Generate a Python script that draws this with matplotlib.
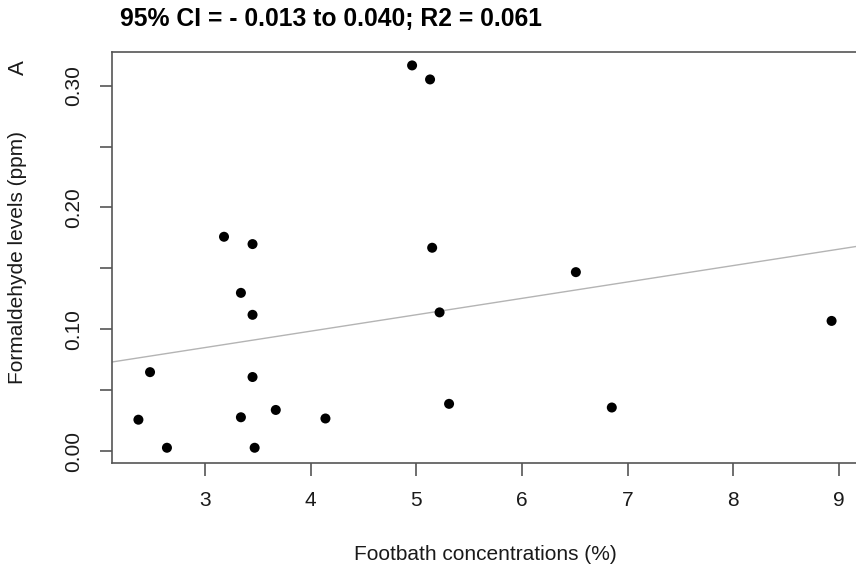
import numpy as np
import matplotlib
matplotlib.use("Agg")
import matplotlib.pyplot as plt

# footbath concentration (%) and formaldehyde level (ppm)
footbath = [4.96, 5.13, 3.18, 3.45, 5.15, 6.51, 3.34, 3.45, 5.22, 8.93,
            2.48, 3.45, 5.31, 3.67, 6.85, 2.37, 3.34, 4.14, 2.64, 3.47]
formaldehyde = [0.3165, 0.305, 0.176, 0.170, 0.167, 0.147, 0.130, 0.112, 0.114, 0.107,
                0.065, 0.061, 0.039, 0.034, 0.036, 0.026, 0.028, 0.027, 0.003, 0.003]

# fitted line as drawn
fit_intercept = 0.0448
fit_slope = 0.01345

title_text = "95% CI = - 0.013 to 0.040; R2 = 0.061"
x_ticks = [3, 4, 5, 6, 7, 8, 9]
y_ticks = [0.00, 0.10, 0.20, 0.30]
y_minor = [0.05, 0.15, 0.25]

plt.rcParams['font.family'] = ['Liberation Sans', 'DejaVu Sans']
edge = '#555555'
txt = '#1a1a1a'

fig = plt.figure(figsize=(8.56, 5.70), dpi=100)
# right edge of the box sits just past the figure border, like the cropped original
ax = fig.add_axes([112 / 856, 1 - 463 / 570, 746 / 856, (463 - 52) / 570])

ax.axline((0, fit_intercept), slope=fit_slope, color='#b4b4b4', lw=1.0, zorder=1)
ax.scatter(footbath, formaldehyde, s=52, color='black', edgecolors='none', zorder=3)

ax.set_xlim(2.12, 9.18)
ax.set_ylim(-0.0095, 0.3275)

ax.set_xticks(x_ticks)
ax.set_xticklabels([str(t) for t in x_ticks])
ax.set_yticks(y_ticks)
ax.set_yticklabels([f"{t:.2f}" for t in y_ticks])
ax.set_yticks(y_minor, minor=True)

for s in ax.spines.values():
    s.set_color(edge)
    s.set_linewidth(1.2)

ax.tick_params(axis='both', which='both', direction='out', length=9, width=1.2,
               color=edge, labelsize=15, labelcolor=txt)
ax.tick_params(axis='x', pad=11)
ax.tick_params(axis='y', pad=12, labelrotation=90)
for lab in ax.get_yticklabels():
    lab.set_va('center')

ax.set_xlabel('Footbath concentrations (%)', fontsize=15, color=txt)
ax.xaxis.set_label_coords(0.5, -(555 - 463) / (463 - 52))
ax.xaxis.label.set_va('center')
ax.set_ylabel('Formaldehyde levels (ppm)', fontsize=15, color=txt)
ax.yaxis.set_label_coords(-(112 - 18) / 746, 0.5)
ax.yaxis.label.set_va('center')

fig.text(18 / 856, 1 - 68 / 570, 'A', rotation=90, fontsize=16, color=txt,
         ha='center', va='center')
fig.text(120 / 856, 1 - 19 / 570, title_text, fontsize=17.8, fontweight='bold',
         color='black', ha='left', va='center')

fig.savefig('out.png', dpi=100)
